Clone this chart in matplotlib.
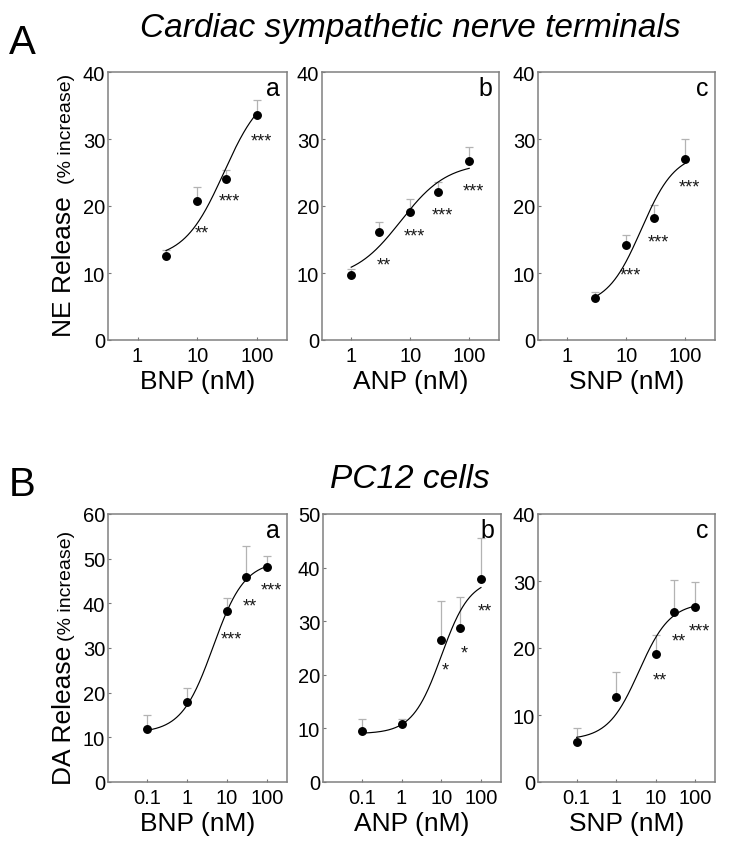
import numpy as np
import matplotlib
matplotlib.use("Agg")
import matplotlib.pyplot as plt
from matplotlib.transforms import offset_copy

plt.rcParams['font.family'] = ['Liberation Sans', 'DejaVu Sans']

# ---------------- data ----------------
# Row A: cardiac sympathetic nerve terminals, NE release (% increase)
a_bnp_dose = [3, 10, 30, 100]
a_bnp_mean = [12.5, 20.7, 24.1, 33.6]
a_bnp_err = [0.9, 2.2, 1.3, 2.2]
a_bnp_sig = ['', '**', '***', '***']
a_bnp_sig_y = [np.nan, 16.9, 21.6, 30.5]
a_bnp_fit = [12.0, 38.0, 28.0, 1.3]      # bottom, top, EC50, Hill slope

a_anp_dose = [1, 3, 10, 30, 100]
a_anp_mean = [9.75, 16.1, 19.15, 22.15, 26.75]
a_anp_err = [0.85, 1.55, 1.85, 1.5, 2.0]
a_anp_sig = ['', '**', '***', '***', '***']
a_anp_sig_y = [np.nan, 12.0, 16.35, 19.5, 23.1]
a_anp_fit = [9.0, 26.5, 6.9, 1.1]

a_snp_dose = [3, 10, 30, 100]
a_snp_mean = [6.25, 14.25, 18.2, 27.05]
a_snp_err = [0.85, 1.4, 1.95, 2.95]
a_snp_sig = ['', '***', '***', '***']
a_snp_sig_y = [np.nan, 10.5, 15.5, 23.65]
a_snp_fit = [5.0, 28.0, 18.0, 1.5]

# Row B: PC12 cells, DA release (% increase)
b_bnp_dose = [0.1, 1, 10, 30, 100]
b_bnp_mean = [11.8, 17.8, 38.3, 45.8, 48.1]
b_bnp_err = [3.2, 3.35, 2.8, 7.1, 2.4]
b_bnp_sig = ['', '', '***', '**', '***']
b_bnp_sig_y = [np.nan, np.nan, 33.3, 40.7, 44.3]
b_bnp_fit = [11.0, 49.5, 4.5, 1.1]

b_anp_dose = [0.1, 1, 10, 30, 100]
b_anp_mean = [9.5, 10.8, 26.5, 28.7, 37.9]
b_anp_err = [2.3, 1.0, 7.2, 5.9, 7.6]
b_anp_sig = ['', '', '*', '*', '**']
b_anp_sig_y = [np.nan, np.nan, 21.9, 25.1, 33.0]
b_anp_fit = [9.0, 38.0, 10.0, 1.2]

b_snp_dose = [0.1, 1, 10, 30, 100]
b_snp_mean = [6.0, 12.7, 19.1, 25.35, 26.15]
b_snp_err = [2.0, 3.7, 2.8, 4.85, 3.65]
b_snp_sig = ['', '', '**', '**', '***']
b_snp_sig_y = [np.nan, np.nan, 16.1, 21.9, 23.4]
b_snp_fit = [6.3, 26.8, 3.8, 1.1]

xlabels = ['BNP (nM)', 'ANP (nM)', 'SNP (nM)']
panel_letters = ['a', 'b', 'c']
row_a_xticks = [1, 10, 100]
row_a_xticklabels = ['1', '10', '100']
row_b_xticks = [0.1, 1, 10, 100]
row_b_xticklabels = ['0.1', '1', '10', '100']
row_a_ymax = [40, 40, 40]
row_b_ymax = [60, 50, 40]

# ---------------- layout ----------------
W, H = 729, 845
fig = plt.figure(figsize=(W / 100, H / 100), dpi=100)

STAR_FS = 13


def px_axes(x0, x1, ytop, ybot):
    return fig.add_axes([x0 / W, 1 - ybot / H, (x1 - x0) / W, (ybot - ytop) / H])


def hill(x, p):
    b, t, ec, n = p
    return b + (t - b) / (1 + (ec / x) ** n)


def draw_panel(ax, dose, mean, err, sig, sig_y, fit, ymax, xlim, xticks, xticklabels,
               xlabel, letter):
    dose = np.asarray(dose, float)
    mean = np.asarray(mean, float)
    err = np.asarray(err, float)
    xs = np.logspace(np.log10(dose[0]), np.log10(dose[-1]), 200)
    ax.plot(xs, hill(xs, fit), color='black', lw=0.85, zorder=2)
    ax.errorbar(dose, mean, yerr=[np.zeros_like(err), err], fmt='none',
                ecolor='#b3b3b3', elinewidth=0.9, capsize=3, capthick=0.9, zorder=1)
    ax.plot(dose, mean, 'o', color='black', ms=5.4, zorder=3)
    trans = offset_copy(ax.transData, fig=fig, x=3, y=-0.57 * STAR_FS, units='points')
    for d, s, sy in zip(dose, sig, sig_y):
        if s:
            ax.text(d, sy, s, transform=trans, ha='center', va='baseline',
                    fontsize=STAR_FS, color='#1a1a1a')
    ax.set_xscale('log')
    ax.set_xlim(*xlim)
    ax.set_ylim(0, ymax)
    ax.set_xticks(xticks)
    ax.set_xticklabels(xticklabels)
    ax.xaxis.set_minor_locator(matplotlib.ticker.NullLocator())
    ax.set_yticks(np.arange(0, ymax + 1, 10))
    ax.tick_params(axis='both', direction='in', length=2.5, width=0.8,
                   color='#777777', labelsize=14.5)
    ax.tick_params(axis='y', pad=2)
    ax.tick_params(axis='x', pad=4)
    for sp in ax.spines.values():
        sp.set_color('#808080')
        sp.set_linewidth(1.1)
    ax.set_xlabel(xlabel, fontsize=19, labelpad=3)
    ax.text(1 - 7 / 179, 1 - 23 / 268, letter, transform=ax.transAxes,
            ha='right', va='baseline', fontsize=18)


top_cols = [(108, 287), (322, 499), (538, 715)]
bot_cols = [(108, 287), (323, 501), (538, 715)]

row_a = [
    (a_bnp_dose, a_bnp_mean, a_bnp_err, a_bnp_sig, a_bnp_sig_y, a_bnp_fit),
    (a_anp_dose, a_anp_mean, a_anp_err, a_anp_sig, a_anp_sig_y, a_anp_fit),
    (a_snp_dose, a_snp_mean, a_snp_err, a_snp_sig, a_snp_sig_y, a_snp_fit),
]
row_b = [
    (b_bnp_dose, b_bnp_mean, b_bnp_err, b_bnp_sig, b_bnp_sig_y, b_bnp_fit),
    (b_anp_dose, b_anp_mean, b_anp_err, b_anp_sig, b_anp_sig_y, b_anp_fit),
    (b_snp_dose, b_snp_mean, b_snp_err, b_snp_sig, b_snp_sig_y, b_snp_fit),
]

for i, ((x0, x1), d) in enumerate(zip(top_cols, row_a)):
    ax = px_axes(x0, x1, 73, 341)
    draw_panel(ax, *d, row_a_ymax[i], (0.32, 320), row_a_xticks, row_a_xticklabels,
               xlabels[i], panel_letters[i])

for i, ((x0, x1), d) in enumerate(zip(bot_cols, row_b)):
    ax = px_axes(x0, x1, 515, 783)
    draw_panel(ax, *d, row_b_ymax[i], (0.0105, 320), row_b_xticks, row_b_xticklabels,
               xlabels[i], panel_letters[i])


def ftext(xp, yp, s, **kw):
    fig.text(xp / W, 1 - yp / H, s, **kw)


# Row headings and section letters
ftext(410, 37, 'Cardiac sympathetic nerve terminals', ha='center', va='baseline',
      fontsize=24, style='italic')
ftext(410, 488, 'PC12 cells', ha='center', va='baseline', fontsize=24, style='italic')
ftext(9, 54, 'A', ha='left', va='baseline', fontsize=29)
ftext(9, 496, 'B', ha='left', va='baseline', fontsize=29)

# y-axis labels (big + small part)
for big, ystart, ysmall in [('NE Release', 337, 184), ('DA Release', 785, 641)]:
    ftext(71, ystart, big, rotation=90, rotation_mode='anchor', ha='left',
          va='baseline', fontsize=19)
    ftext(71, ysmall, '(% increase)', rotation=90, rotation_mode='anchor', ha='left',
          va='baseline', fontsize=14)

fig.savefig('out.png', dpi=100)
